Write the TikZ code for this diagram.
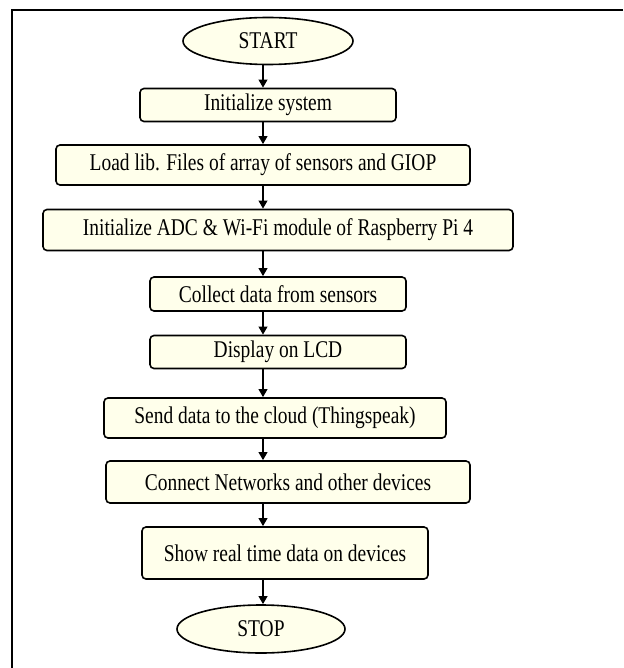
\documentclass[tikz,border=0pt]{standalone}
\usepackage{fontspec}
\setmainfont[FakeStretch=0.81]{Liberation Serif}
\usetikzlibrary{arrows.meta,shapes.geometric}

\definecolor{boxfill}{RGB}{255,255,235}

\begin{document}
\begin{tikzpicture}[x=1pt,y=-1pt,font=\fontsize{24}{28}\selectfont,
  box/.style={draw,line width=1.6pt,rounded corners=4pt,fill=boxfill,inner sep=0pt},
  term/.style={ellipse,draw,line width=1.6pt,fill=boxfill,inner sep=0pt},
  flow/.style={->,line width=2.4pt},
  >={Triangle[length=8pt,width=8.5pt]}]
\useasboundingbox (0,0) rectangle (623,668);
% outer frame (only top and left edges are visible)
\draw[line width=2pt] (623,10) -- (11.5,10) -- (11.5,668);
\coordinate (spine) at (263,0);
\node[term,minimum width=170pt,minimum height=47pt] (start) at (268,41) {START};
\node[box,minimum width=256pt,minimum height=33pt] (init) at (268,105) {Initialize system};
\node[box,minimum width=414pt,minimum height=40pt] (load) at (263,165) {Load lib. Files of array of sensors and GIOP};
\node[box,minimum width=470pt,minimum height=41pt] (adc) at (278,230) {Initialize ADC \& Wi-Fi module of Raspberry Pi 4};
\node[box,minimum width=256pt,minimum height=34pt] (collect) at (278,294) {Collect data from sensors};
\node[box,minimum width=256pt,minimum height=33pt] (lcd) at (278,352) {Display on LCD};
\node[box,minimum width=342pt,minimum height=40pt] (cloud) at (275,418) {Send data to the cloud (Thingspeak)};
\node[box,minimum width=364pt,minimum height=42pt] (net) at (288,482) {Connect Networks and other devices};
\node[box,minimum width=286pt,minimum height=52pt] (show) at (285,553) {Show real time data on devices};
\node[term,minimum width=168pt,minimum height=48pt] (stop) at (261,629) {STOP};
\draw[flow] (start.south -| spine) -- (init.north -| spine);
\draw[flow] (init.south -| spine) -- (load.north -| spine);
\draw[flow] (load.south -| spine) -- (adc.north -| spine);
\draw[flow] (adc.south -| spine) -- (collect.north -| spine);
\draw[flow] (collect.south -| spine) -- (lcd.north -| spine);
\draw[flow] (lcd.south -| spine) -- (cloud.north -| spine);
\draw[flow] (cloud.south -| spine) -- (net.north -| spine);
\draw[flow] (net.south -| spine) -- (show.north -| spine);
\draw[flow] (show.south -| spine) -- (stop.north -| spine);
\end{tikzpicture}
\end{document}
